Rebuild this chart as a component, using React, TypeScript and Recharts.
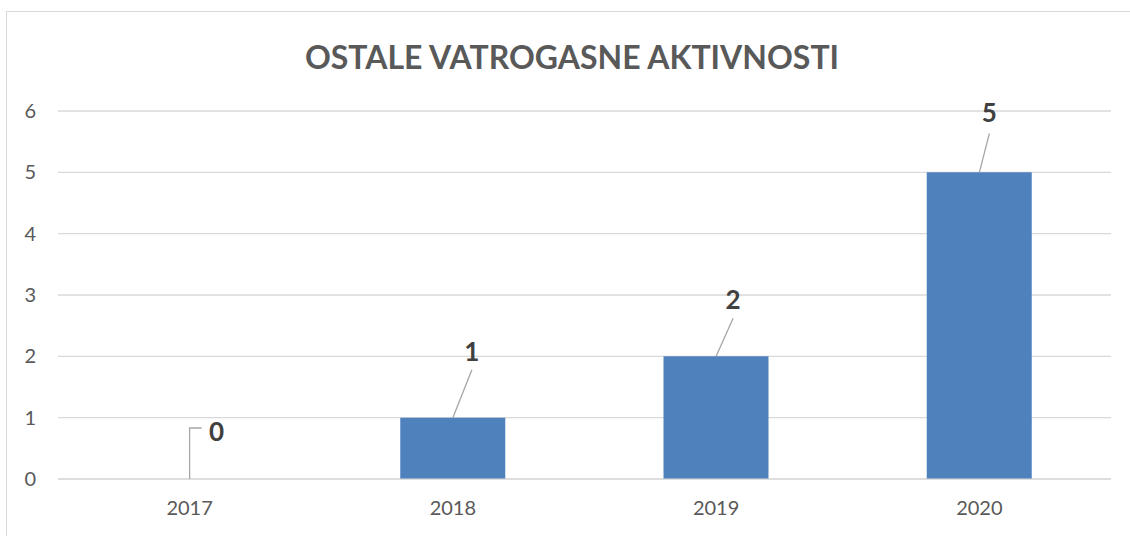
import React from 'react';
import { ComposedChart, Bar, Line, XAxis, YAxis, CartesianGrid, LabelList } from 'recharts';

const years = ['2017', '2018', '2019', '2020'];
const activities = [0, 1, 2, 5];
const yTicks = [0, 1, 2, 3, 4, 5, 6];

// where each data label sits, relative to the top centre of its bar
const labelOffsets = [
  { lx: 12, ly: -51, tx: 27, ty: -48, elbow: true },
  { lx: 19, ly: -48, tx: 19, ty: -67, elbow: false },
  { lx: 17, ly: -38, tx: 17, ty: -57, elbow: false },
  { lx: 10, ly: -39, tx: 10, ty: -60, elbow: false },
];

const data = years.map((year, i) => ({ year, value: activities[i] }));

const FONT = 'Lato, "Open Sans", sans-serif';

const LeaderLabel = (props: any) => {
  const { x, y, value, index } = props;
  const o = labelOffsets[index];
  if (!o) return null;
  const cx = Number(x);
  const top = Number(y);
  const path = o.elbow
    ? `M${cx},${top} L${cx},${top + o.ly} L${cx + o.lx},${top + o.ly}`
    : `M${cx},${top} L${cx + o.lx},${top + o.ly}`;
  return (
    <g>
      <path d={path} stroke="#a6a6a6" strokeWidth={1.3} fill="none" />
      <text
        x={cx + o.tx}
        y={top + o.ty}
        textAnchor="middle"
        dominantBaseline="central"
        fontFamily={FONT}
        fontWeight={700}
        fontSize={26}
        fill="#404040"
      >
        {value}
      </text>
    </g>
  );
};

export default function App() {
  return (
    <div style={{ position: 'absolute', left: 0, top: 0, width: 1130, height: 536, background: '#fff', overflow: 'hidden' }}>
      <div
        style={{
          position: 'absolute',
          left: 6,
          top: 11,
          width: 1140,
          height: 540,
          border: '1px solid #d9d9d9',
          boxSizing: 'border-box',
        }}
      />
      <div
        style={{
          position: 'absolute',
          left: 0,
          width: 1144,
          top: 37,
          textAlign: 'center',
          fontFamily: FONT,
          fontWeight: 700,
          fontSize: 32,
          color: '#595959',
          lineHeight: '40px',
        }}
      >
        OSTALE VATROGASNE AKTIVNOSTI
      </div>
      <div style={{ position: 'absolute', left: 0, top: 0 }}>
        <ComposedChart width={1130} height={536} data={data} margin={{ top: 111, right: 19, bottom: 27, left: 0 }}>
          <CartesianGrid vertical={false} stroke="#d9d9d9" strokeWidth={1.3} />
          <XAxis
            dataKey="year"
            height={30}
            stroke="#d9d9d9"
            tickLine={false}
            tickMargin={16}
            tick={{ fill: '#595959', fontSize: 20, fontFamily: FONT }}
          />
          <YAxis
            width={58}
            domain={[0, 6]}
            ticks={yTicks}
            axisLine={false}
            tickLine={false}
            tickSize={0}
            tickMargin={22}
            tick={{ fill: '#595959', fontSize: 20, fontFamily: FONT }}
          />
          <Bar dataKey="value" fill="#4f81bd" barSize={105} isAnimationActive={false} />
          <Line
            dataKey="value"
            stroke="none"
            dot={false}
            activeDot={false}
            legendType="none"
            isAnimationActive={false}
          >
            <LabelList dataKey="value" content={<LeaderLabel />} />
          </Line>
        </ComposedChart>
      </div>
    </div>
  );
}
